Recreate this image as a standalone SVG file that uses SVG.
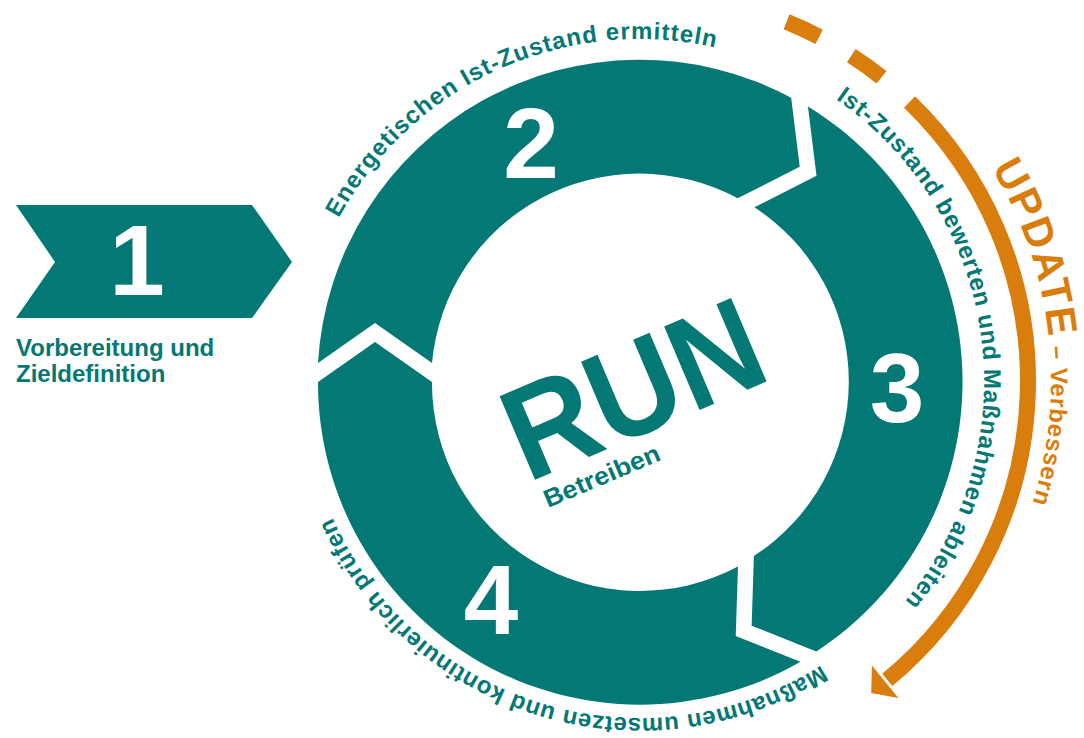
<svg xmlns="http://www.w3.org/2000/svg" width="1084" height="738" viewBox="0 0 1084 738">
<style>
.teal{fill:#047874}
.num{font-family:"Liberation Sans",Arial,sans-serif;font-weight:bold;fill:#ffffff;text-anchor:middle}
.lbl{font-family:"Liberation Sans",Arial,sans-serif;font-weight:bold;fill:#047874}
.upd{font-family:"Liberation Sans",Arial,sans-serif;font-weight:bold;fill:#d97d0d}
.orange{fill:none;stroke:#d97d0d;stroke-width:16;stroke-linecap:butt}
</style>
<defs>
<path id="pTop" d="M 338.57 218.33 A 343 343 0 0 1 965.27 490.83"/>
<path id="pRight" d="M 835.83 99.18 A 344 344 0 0 1 496.25 694.53"/>
<path id="pBottom" d="M 821.03 665.06 A 336 336 0 0 1 412.57 134.67"/>
<path id="pUpd" d="M 991.55 168.09 A 411 411 0 0 1 711.37 785.76"/>
</defs>
<rect width="1084" height="738" fill="#ffffff"/>

<g id="step1">
<polygon class="teal" points="16,205 252,205 292,262 252,318 16,318 55,262"/>
<text class="num" x="137" y="295" font-size="100">1</text>
<text class="lbl" font-size="24"><tspan x="16" y="356">Vorbereitung und</tspan><tspan x="16" y="382">Zieldefinition</tspan></text>
</g>

<g id="step2">
<path class="teal" d="M 318 363 A 322 322 0 0 1 791.17 97.69 L 799.73 166.80 L 737.65 198.35 A 208 208 0 0 0 432 363 L 375 323 Z"/>
<text class="num" x="531" y="178" font-size="100">2</text>
<text class="lbl" font-size="24" letter-spacing="1"><textPath href="#pTop">Energetischen Ist-Zustand ermitteln</textPath></text>
</g>

<g id="step3">
<path class="teal" d="M 807.95 106.61 A 322 322 0 0 1 816.32 651.44 L 751.63 625.64 L 753.89 556.05 A 208 208 0 0 0 754.43 207.27 L 816.51 175.72 Z"/>
<text class="num" x="897" y="422" font-size="98">3</text>
<text class="lbl" font-size="24" letter-spacing="0.8"><textPath href="#pRight">Ist-Zustand bewerten und Maßnahmen ableiten</textPath></text>
</g>

<g id="step4">
<path class="teal" d="M 800.42 661.84 A 322 322 0 0 1 318 382 L 375 342 L 432 382 A 208 208 0 0 0 737.99 566.45 L 735.73 636.04 Z"/>
<text class="num" x="491" y="634" font-size="98">4</text>
<text class="lbl" font-size="24" letter-spacing="0.6"><textPath href="#pBottom">Maßnahmen umsetzen und kontinuierlich prüfen</textPath></text>
</g>

<g id="center">
<text class="lbl" transform="translate(527.6,483.1) rotate(-23)" font-size="132" textLength="268" lengthAdjust="spacingAndGlyphs">RUN</text>
<text class="lbl" transform="translate(548,508) rotate(-23)" font-size="25" textLength="124" lengthAdjust="spacingAndGlyphs">Betreiben</text>
</g>

<g id="connectors">
<path class="orange" d="M 786.60 21.76 A 388 388 0 0 1 819.16 36.84"/>
<path class="orange" d="M 851.32 55.60 A 388 388 0 0 1 881.53 77.35"/>
<path class="orange" d="M 909.53 101.90 A 388 388 0 0 1 887.32 679.96"/>
<polygon fill="#d97d0d" points="871.91,665.44 898.46,697.99 871.24,693.08"/>
</g>

<g id="update">
<text class="upd"><textPath href="#pUpd"><tspan font-size="42" letter-spacing="2">UPDATE</tspan><tspan font-size="24" letter-spacing="0.8"> – Verbessern</tspan></textPath></text>
</g>
</svg>
